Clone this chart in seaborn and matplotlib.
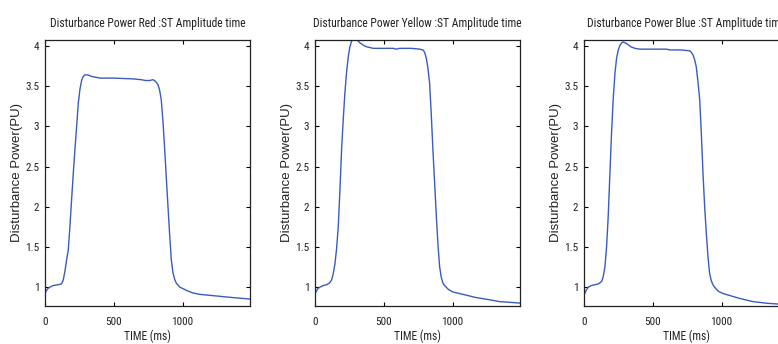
import numpy as np
import pandas as pd
import matplotlib
matplotlib.use("Agg")
import matplotlib.pyplot as plt
import seaborn as sns
from matplotlib import font_manager
from matplotlib.font_manager import FontProperties

# ---- data ----
red_t = [0, 20, 36, 60, 97, 120, 133, 145, 158, 169, 181, 193, 205, 217, 230, 242, 254, 266, 278, 290, 310, 340, 400, 495, 640, 700, 730, 760, 785, 803, 821, 833, 845, 858, 870, 882, 894, 906, 918, 930, 942, 954, 980, 1027, 1070, 1123, 1244, 1364, 1500]
red_v = [0.93, 0.98, 1.0, 1.02, 1.03, 1.04, 1.09, 1.2, 1.35, 1.46, 1.75, 2.08, 2.4, 2.7, 3.0, 3.29, 3.46, 3.57, 3.62, 3.64, 3.64, 3.62, 3.60, 3.60, 3.59, 3.58, 3.57, 3.57, 3.58, 3.56, 3.52, 3.45, 3.33, 3.05, 2.71, 2.35, 2.0, 1.65, 1.34, 1.18, 1.1, 1.05, 1.0, 0.96, 0.93, 0.91, 0.89, 0.87, 0.85]

yel_t = [0, 20, 36, 60, 85, 105, 121, 133, 145, 157, 169, 181, 193, 205, 217, 230, 242, 254, 266, 280, 290, 308, 326, 350, 374, 423, 568, 592, 616, 700, 761, 785, 797, 809, 821, 833, 845, 857, 870, 882, 894, 906, 918, 930, 942, 970, 1002, 1050, 1099, 1170, 1244, 1340, 1420, 1500]
yel_v = [0.92, 0.98, 1.0, 1.02, 1.03, 1.05, 1.09, 1.17, 1.29, 1.48, 1.75, 2.2, 2.7, 3.08, 3.41, 3.68, 3.87, 3.99, 4.06, 4.09, 4.09, 4.07, 4.04, 4.01, 3.99, 3.97, 3.97, 3.96, 3.97, 3.97, 3.96, 3.95, 3.92, 3.85, 3.72, 3.54, 3.15, 2.71, 2.28, 1.88, 1.52, 1.25, 1.12, 1.05, 1.02, 0.97, 0.94, 0.92, 0.90, 0.87, 0.85, 0.82, 0.81, 0.80]

blu_t = [0, 15, 31, 55, 80, 105, 128, 140, 152, 164, 176, 188, 200, 212, 225, 237, 249, 262, 275, 285, 297, 309, 340, 370, 406, 520, 599, 623, 700, 768, 780, 792, 804, 816, 828, 841, 853, 865, 877, 889, 901, 913, 925, 937, 949, 975, 1010, 1070, 1130, 1227, 1324, 1408, 1500]
blu_v = [0.90, 0.96, 1.0, 1.02, 1.03, 1.04, 1.07, 1.13, 1.25, 1.5, 1.88, 2.4, 2.91, 3.33, 3.66, 3.85, 3.95, 4.01, 4.04, 4.05, 4.04, 4.03, 3.99, 3.97, 3.96, 3.96, 3.96, 3.95, 3.95, 3.94, 3.92, 3.89, 3.83, 3.74, 3.56, 3.33, 2.9, 2.41, 2.0, 1.67, 1.38, 1.17, 1.08, 1.03, 1.0, 0.95, 0.92, 0.89, 0.86, 0.82, 0.80, 0.79, 0.78]

titles = ["Disturbance Power Red :ST Amplitude time",
          "Disturbance Power Yellow :ST Amplitude time",
          "Disturbance Power Blue :ST Amplitude time"]
x_ticks = [0, 500, 1000]
y_ticks = [1, 1.5, 2, 2.5, 3, 3.5, 4]
y_ticklabels = ["1", "1.5", "2", "2.5", "3", "3.5", "4"]

sns.set_theme(style="white")

# pick a narrow font if one exists
narrow_file = None
for f in font_manager.fontManager.ttflist:
    low = f.fname.lower()
    if ("narrow" in low or "condensed" in low) and "bold" not in low and "oblique" not in low \
            and "italic" not in low and "light" not in low and "medium" not in low:
        narrow_file = f.fname
        if "liberation" in low:
            break
names = {f.name for f in font_manager.fontManager.ttflist}
regular = "Liberation Sans" if "Liberation Sans" in names else "DejaVu Sans"
plt.rcParams['font.family'] = [regular, 'DejaVu Sans']


def narrow_fp(size):
    if narrow_file:
        return FontProperties(fname=narrow_file, size=size)
    return FontProperties(family=[regular, 'DejaVu Sans'], size=size)


W, H = 778, 344
fig = plt.figure(figsize=(W / 100, H / 100), dpi=100)
fig.patch.set_facecolor("white")
renderer = fig.canvas.get_renderer()


def fit_size(text, target_px, base=10.0, prop_fn=narrow_fp):
    t = fig.text(0, 0, text, fontproperties=prop_fn(base))
    w = t.get_window_extent(renderer).width
    t.remove()
    return base * target_px / w


title_size = fit_size(titles[0], 196)
tick_size = fit_size("1000", 22)
xlabel_size = fit_size("TIME (ms)", 47)
ylabel_size = fit_size("Disturbance Power(PU)", 140,
                       prop_fn=lambda s: FontProperties(family=[regular, 'DejaVu Sans'], size=s))

lefts = [45, 315, 584]
ax_w = 205
ax_top, ax_bot = 39.5, 306
ax_h = ax_bot - ax_top
color = "#3a5bbf"
ink = "#222222"

series = [(red_t, red_v), (yel_t, yel_v), (blu_t, blu_v)]
for i, (t, v) in enumerate(series):
    ax = fig.add_axes([lefts[i] / W, 1 - ax_bot / H, ax_w / W, ax_h / H])
    df = pd.DataFrame({"t": t, "v": v})
    sns.lineplot(data=df, x="t", y="v", ax=ax, color=color, linewidth=1.0)
    ax.set_xlim(0, 1490)
    ax.set_ylim(0.765, 4.08)
    ax.set_xticks(x_ticks)
    ax.set_xticklabels([str(x) for x in x_ticks])
    ax.set_yticks(y_ticks)
    ax.set_yticklabels(y_ticklabels)
    ax.tick_params(direction="in", length=3, width=0.8, color="black",
                   top=True, right=True, bottom=True, left=True,
                   labelcolor=ink)
    ax.tick_params(axis="x", pad=8)
    ax.tick_params(axis="y", pad=4)
    for lab in ax.get_xticklabels() + ax.get_yticklabels():
        lab.set_fontproperties(narrow_fp(tick_size))
    for sp in ax.spines.values():
        sp.set_color(ink)
        sp.set_linewidth(0.9)
    ax.set_title(titles[i], fontproperties=narrow_fp(title_size), color=ink,
                 y=1 + (ax_top - 23) / ax_h, pad=0, va="center")
    ax.set_xlabel("TIME (ms)", fontproperties=narrow_fp(xlabel_size), color=ink)
    ax.xaxis.set_label_coords(0.5, (ax_bot - 336) / ax_h)
    ax.xaxis.label.set_va("center")
    ax.set_ylabel("Disturbance Power(PU)", fontsize=ylabel_size, color=ink)
    ax.yaxis.set_label_coords((17 - 45) / ax_w, 0.5 + (ax_top + ax_h / 2 - 172.5) / ax_h)
    ax.yaxis.label.set_va("center")

fig.savefig("out.png", dpi=100, facecolor="white")
